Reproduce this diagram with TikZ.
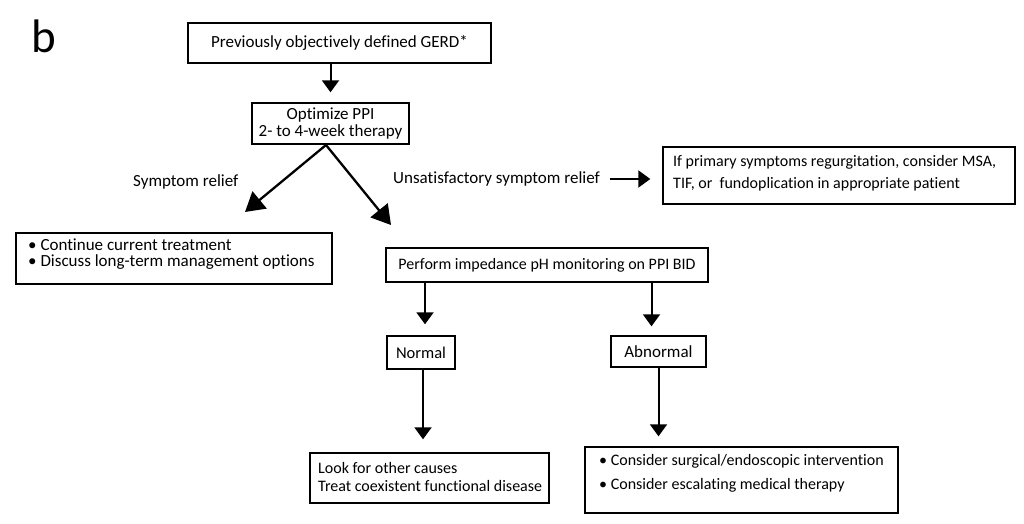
\documentclass[tikz,border=0pt]{standalone}
\usepackage{fontspec}
\setmainfont{Carlito}[Ligatures={NoCommon}]
\usetikzlibrary{arrows.meta,calc}
\begin{document}
\begin{tikzpicture}[x=1pt,y=-1pt,
  box/.style={draw, line width=1.4pt, inner sep=0pt},
  txtA/.style={font=\fontsize{17}{20}\selectfont},
  txtB/.style={font=\fontsize{16}{19}\selectfont},
  arr/.style={line width=2pt, -{Triangle[width=17pt,length=12pt]}},
  bigarr/.style={line width=2.3pt, -{Triangle[width=22pt,length=19pt]}}]
\useasboundingbox[fill=white] (0,0) rectangle (1024,524);

% panel letter
\node[anchor=base west, inner sep=0pt, font=\fontsize{47}{47}\selectfont] (lbl) at (31,53) {b};

% boxes
\node[box, txtA, minimum width=303pt, minimum height=40pt] (gerd) at (339.5,43) {Previously objectively defined GERD*};
\node[box, align=center, minimum width=157pt, minimum height=41pt, font=\fontsize{17}{17}\selectfont] (ppi) at (330.5,123.5) {Optimize PPI\\2- to 4-week therapy};
\node[box, minimum width=316pt, minimum height=51pt] (cont) at (174,258.5) {};
\node[box, minimum width=352pt, minimum height=57pt] (msa) at (839,175.5) {};
\node[box, txtB, minimum width=322pt, minimum height=34pt] (perf) at (547,265) {Perform impedance pH monitoring on PPI BID};
\node[box, minimum width=68pt, minimum height=33pt, font=\fontsize{16.5}{19}\selectfont] (normal) at (421,352.5) {Normal};
\node[box, txtA, minimum width=95pt, minimum height=31pt] (abn) at (658.5,351.5) {Abnormal};
\node[box, minimum width=239pt, minimum height=50pt] (look) at (429.5,478) {};
\node[box, minimum width=313pt, minimum height=66pt] (cons) at (741.5,480) {};

% box texts
\node[txtA, anchor=north west, align=left, inner sep=0pt] (contT) at (28,236)
  {\strut\textbullet\ Continue current treatment\\[-4pt]\textbullet\ Discuss long-term management options};
\node[txtB, anchor=north west, align=left, inner sep=0pt] (msaT) at (673,152.7)
  {\strut If primary symptoms regurgitation, consider MSA,\\[3pt]TIF, or\ \ fundoplication in appropriate patient};
\node[txtB, anchor=north west, align=left, inner sep=0pt] (lookT) at (318,459.7)
  {\strut Look for other causes\\[-1pt]Treat coexistent functional disease};
\node[txtB, anchor=north west, align=left, inner sep=0pt] (consT) at (599,451.7)
  {\strut\textbullet\ Consider surgical/endoscopic intervention\\[5pt]\textbullet\ Consider escalating medical therapy};

% free labels
\node[txtA, anchor=west, inner sep=0pt] (relief) at (133,182) {Symptom relief};
\node[txtA, anchor=west, inner sep=0pt] (unsat) at (393,179) {Unsatisfactory symptom relief};

% free ends
\coordinate (tipL) at (245,212);
\coordinate (tipR) at (391,225);
\coordinate (ppiOut) at (326,145);

% connectors
\draw[arr, shorten >=10pt] (ppi.north |- gerd.south) -- (ppi.north);
\draw[bigarr] (ppiOut) -- (tipL);
\draw[bigarr] (ppiOut) -- (tipR);
\draw[arr, shorten <=10pt, shorten >=12pt] (unsat.east) -- (unsat.east -| msa.west);
\draw[arr, shorten >=11pt] ($(perf.south -| normal.north)+(4,0)$) -- ($(normal.north)+(4,0)$);
\draw[arr, shorten >=9pt] ($(perf.south -| abn.north)+(-7,0)$) -- ($(abn.north)+(-7,0)$);
\draw[arr, shorten >=13pt] ($(normal.south)+(2,0)$) -- ($(look.north -| normal.south)+(2,0)$);
\draw[arr, shorten >=10pt] (abn.south) -- (abn.south |- cons.north);
\end{tikzpicture}
\end{document}
